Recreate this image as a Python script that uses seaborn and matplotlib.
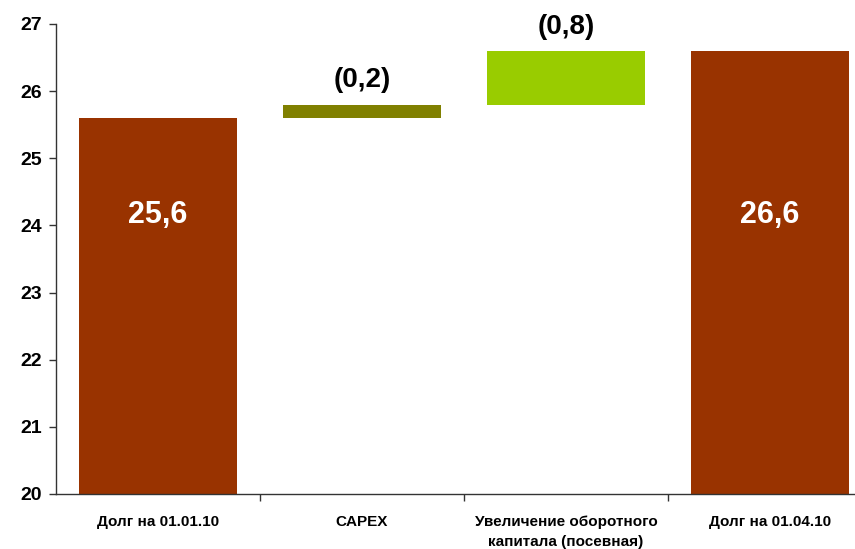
import matplotlib
matplotlib.use("Agg")
import matplotlib.pyplot as plt
import seaborn as sns
import pandas as pd
from matplotlib.ticker import FixedLocator

categories = ["Долг на 01.01.10", "CAPEX", "Увеличение оборотного\nкапитала (посевная)", "Долг на 01.04.10"]
heights = [25.6, 0.2, 0.8, 26.6]
bottoms = [0.0, 25.6, 25.8, 0.0]
labels = ["25,6", "(0,2)", "(0,8)", "26,6"]
colors = ["#993300", "#808000", "#99CC00", "#993300"]
inside = [True, False, False, True]

sns.set_style("white")
plt.rcParams["font.family"] = ["Liberation Sans", "DejaVu Sans"]

df = pd.DataFrame({"cat": categories, "h": heights})

fig = plt.figure(figsize=(8.55, 5.49), dpi=100)
ax = fig.add_axes([56/855, 1-494/549, (872-56)/855, (494-24)/549])
sns.barplot(data=df, x="cat", y="h", bottom=bottoms, errorbar=None, width=0.77,
            ax=ax, linewidth=0, saturation=1, color=colors[0])
for p, c in zip(ax.patches, colors):
    p.set_facecolor(c)
    p.set_edgecolor(c)

ax.set_ylim(20, 27)
ax.set_xlim(-0.5, 3.5)
ax.set_yticks(range(20, 28))
ax.set_xlabel("")
ax.set_ylabel("")

for i, (h, b, lab, ins) in enumerate(zip(heights, bottoms, labels, inside)):
    if ins:
        ax.text(i, 24.15, lab, ha="center", va="center", color="white",
                fontsize=22, fontweight="bold")
    else:
        ax.annotate(lab, (i, b + h), xytext=(0, 8), textcoords="offset points",
                    ha="center", va="bottom", fontsize=20, fontweight="bold", color="black")

for s in ["top", "right"]:
    ax.spines[s].set_visible(False)
for s in ["left", "bottom"]:
    ax.spines[s].set_color("#333333")
    ax.spines[s].set_linewidth(1.0)

ax.tick_params(axis="y", which="major", left=True, length=5, width=1, color="#333333",
               labelsize=14, pad=5, labelcolor="black")
for t in ax.get_yticklabels():
    t.set_fontweight("bold")
ax.tick_params(axis="x", which="major", bottom=False, length=0, labelsize=11, pad=15,
               labelcolor="black")
for t in ax.get_xticklabels():
    t.set_fontweight("bold")
    t.set_linespacing(1.6)
ax.xaxis.set_minor_locator(FixedLocator([0.5, 1.5, 2.5]))
ax.tick_params(axis="x", which="minor", bottom=True, length=5, width=1, color="#333333")

fig.savefig("out.png", dpi=100)
